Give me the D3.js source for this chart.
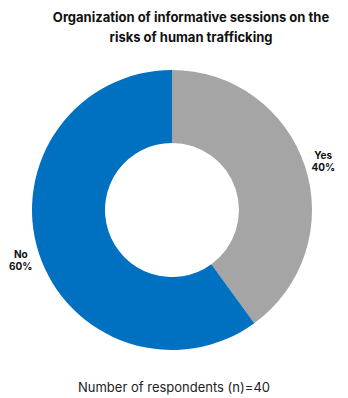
<!DOCTYPE html>
<html>
<head>
<meta charset="utf-8">
<script src="https://cdn.jsdelivr.net/npm/d3@7"></script>
<style>
  html, body { margin: 0; padding: 0; background: #fff; }
  svg { display: block; font-family: Inter, "Noto Sans", sans-serif; }
</style>
</head>
<body>
<div id="chart"></div>
<script>
// Survey answers and their shares (%)
const categories = ["Yes", "No"];
const shares = [40, 60];
const colors = ["#A5A5A5", "#0070C0"];
const titleLines = ["Organization of informative sessions on the", "risks of human trafficking"];
const footnote = "Number of respondents (n)=40";

const width = 348, height = 398;
const cx = 172, cy = 210, outerR = 140, innerR = 67, labelR = 159;

const svg = d3.select("#chart").append("svg")
  .attr("width", width).attr("height", height);

svg.append("text")
  .attr("x", 191).attr("y", 22)
  .attr("text-anchor", "middle")
  .attr("font-size", 13).attr("font-weight", 700).attr("fill", "#111")
  .selectAll("tspan").data(titleLines).join("tspan")
  .attr("x", 191).attr("dy", (d, i) => i === 0 ? 0 : 20)
  .text(d => d);

const data = categories.map((c, i) => ({ cat: c, value: shares[i], color: colors[i] }));
const pie = d3.pie().value(d => d.value).sort(null);
const arc = d3.arc().innerRadius(innerR).outerRadius(outerR);
const labelArc = d3.arc().innerRadius(labelR).outerRadius(labelR);

const g = svg.append("g").attr("transform", `translate(${cx},${cy})`);
const arcs = pie(data);

g.selectAll("path").data(arcs).join("path")
  .attr("d", arc)
  .attr("fill", d => d.data.color);

const labels = g.selectAll("text.lbl").data(arcs).join("text")
  .attr("class", "lbl")
  .attr("transform", d => `translate(${labelArc.centroid(d)})`)
  .attr("text-anchor", "middle")
  .attr("font-size", 10).attr("font-weight", 700).attr("fill", "#111");
labels.append("tspan").attr("x", 0).attr("dy", "-0.15em").text(d => d.data.cat);
labels.append("tspan").attr("x", 0).attr("dy", "1.2em").text(d => d.data.value + "%");

svg.append("text")
  .attr("x", 174).attr("y", 392)
  .attr("text-anchor", "middle")
  .attr("font-size", 13).attr("fill", "#222")
  .text(footnote);
</script>
</body>
</html>
